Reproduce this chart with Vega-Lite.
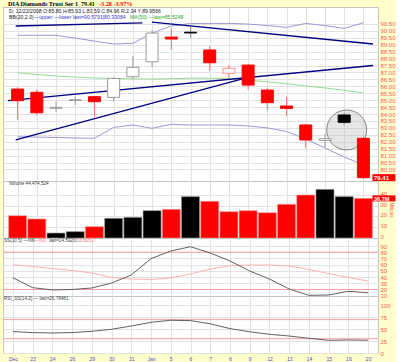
{
"$schema": "https://vega.github.io/schema/vega-lite/v6.json",
"background": "#FFFFCC",
"padding": {"left": 2, "top": 0, "right": 0, "bottom": 0},
"spacing": 0,
"bounds": "flush",
"config": {
  "view": {"fill": "#ffffff", "stroke": "#c4c4c4"},
  "axis": {"labelFont": "Liberation Sans", "ticks": false, "domain": false, "labelFlush": false, "labelOverlap": false, "gridColor": "#e2e2e2", "gridWidth": 1, "minExtent": 0, "title": null},
  "axisY": {"labelColor": "#ff5a5a", "labelFontSize": 6, "labelPadding": 2},
  "axisX": {"labelColor": "#4a4ad0", "labelFontSize": 5, "labelPadding": 3},
  "text": {"font": "Liberation Sans"}
},
"datasets": {
  "days": [
    {"i":0,"d":"2008-12-22","o":85.80,"h":85.93,"l":83.59,"c":84.96,"dir":"down","v":20.6,"up":89.68,"lo":82.36,"ma":86.98,"k":39.0,"dd":59.9,"rsi":44.9},
    {"i":1,"d":"2008-12-23","o":85.57,"h":85.75,"l":83.90,"c":84.09,"dir":"down","v":17.6,"up":89.68,"lo":82.34,"ma":86.85,"k":22.9,"dd":57.0,"rsi":42.8},
    {"i":2,"d":"2008-12-24","o":84.42,"h":84.89,"l":84.17,"c":84.48,"dir":"up","v":4.6,"up":89.68,"lo":82.31,"ma":86.74,"k":19.2,"dd":53.8,"rsi":41.9},
    {"i":3,"d":"2008-12-26","o":84.98,"h":85.25,"l":84.66,"c":85.03,"dir":"up","v":5.9,"up":89.48,"lo":82.27,"ma":86.66,"k":20.0,"dd":50.6,"rsi":42.8},
    {"i":4,"d":"2008-12-29","o":85.25,"h":85.30,"l":83.80,"c":84.89,"dir":"down","v":10.5,"up":89.26,"lo":82.25,"ma":86.60,"k":22.4,"dd":46.5,"rsi":45.5},
    {"i":5,"d":"2008-12-30","o":85.20,"h":86.65,"l":84.90,"c":86.57,"dir":"up","v":18.2,"up":89.05,"lo":83.04,"ma":86.56,"k":30.4,"dd":39.3,"rsi":49.7},
    {"i":6,"d":"2008-12-31","o":86.69,"h":88.18,"l":86.52,"c":87.37,"dir":"up","v":19.1,"up":89.10,"lo":83.21,"ma":86.53,"k":43.3,"dd":36.9,"rsi":56.6},
    {"i":7,"d":"2009-01-02","o":87.77,"h":90.06,"l":87.41,"c":89.84,"dir":"up","v":25.3,"up":89.84,"lo":82.97,"ma":86.53,"k":69.6,"dd":36.1,"rsi":64.4},
    {"i":8,"d":"2009-01-05","o":89.55,"h":90.20,"l":88.62,"c":89.41,"dir":"down","v":26.5,"up":90.35,"lo":83.26,"ma":86.55,"k":82.0,"dd":38.5,"rsi":68.6},
    {"i":9,"d":"2009-01-06","o":89.90,"h":90.30,"l":89.50,"c":89.85,"dir":"up","v":38.3,"up":90.53,"lo":83.21,"ma":86.58,"k":88.9,"dd":44.9,"rsi":67.9},
    {"i":10,"d":"2009-01-07","o":88.62,"h":88.90,"l":87.12,"c":87.70,"dir":"down","v":34.0,"up":90.54,"lo":83.21,"ma":86.58,"k":78.7,"dd":53.0,"rsi":61.2},
    {"i":11,"d":"2009-01-08","o":86.94,"h":87.53,"l":86.60,"c":87.30,"dir":"down","v":24.4,"up":90.54,"lo":83.21,"ma":86.54,"k":65.9,"dd":58.3,"rsi":51.2},
    {"i":12,"d":"2009-01-09","o":87.53,"h":87.60,"l":85.78,"c":86.09,"dir":"down","v":25.3,"up":90.49,"lo":83.14,"ma":86.45,"k":49.8,"dd":59.4,"rsi":44.4},
    {"i":13,"d":"2009-01-12","o":85.73,"h":85.90,"l":84.30,"c":84.82,"dir":"down","v":23.4,"up":90.38,"lo":83.00,"ma":86.32,"k":36.9,"dd":59.4,"rsi":39.2},
    {"i":14,"d":"2009-01-13","o":84.58,"h":85.25,"l":83.86,"c":84.41,"dir":"down","v":31.2,"up":90.25,"lo":82.74,"ma":86.18,"k":20.8,"dd":57.8,"rsi":35.6},
    {"i":15,"d":"2009-01-14","o":83.21,"h":83.30,"l":81.53,"c":82.13,"dir":"down","v":39.8,"up":90.54,"lo":82.20,"ma":86.03,"k":10.6,"dd":52.2,"rsi":30.8},
    {"i":16,"d":"2009-01-15","o":82.10,"h":82.60,"l":81.60,"c":82.22,"dir":"up","v":45.0,"up":90.38,"lo":81.55,"ma":85.88,"k":11.1,"dd":45.7,"rsi":26.6},
    {"i":17,"d":"2009-01-16","o":83.93,"h":84.10,"l":83.20,"c":83.40,"dir":"up","v":38.3,"up":90.18,"lo":80.90,"ma":85.71,"k":17.1,"dd":39.3,"rsi":27.3},
    {"i":18,"d":"2009-01-20","o":82.25,"h":82.35,"l":79.30,"c":79.41,"dir":"down","v":36.7,"up":90.58,"lo":80.33,"ma":85.52,"k":14.6,"dd":33.6,"rsi":26.8}
  ],
  "trend": [
    {"id":"a","x":-0.5,"y":84.97},{"id":"a","x":18.5,"y":87.50},
    {"id":"b","x":7.0,"y":90.63},{"id":"b","x":18.5,"y":89.05},
    {"id":"c","x":-0.1,"y":82.13},{"id":"c","x":11.9,"y":86.6},
    {"id":"d","x":-0.1,"y":90.35},{"id":"d","x":6.5,"y":90.58}
  ]
},
"vconcat": [
{
  "width": 375, "height": 174,
  "data": {"name": "days"},
  "layer": [
    {"mark": {"type": "line", "color": "#9a9ad6", "strokeWidth": 1},
     "encoding": {
       "x": {"field": "i", "type": "quantitative", "scale": {"domain": [-0.5, 18.5], "nice": false, "zero": false}, "axis": {"values": [0,1,2,3,4,5,6,7,8,9,10,11,12,13,14,15,16,17,18], "grid": true, "labels": false}},
       "y": {"field": "up", "type": "quantitative", "scale": {"domain": [79.17, 91.72], "nice": false, "zero": false}, "axis": {"orient": "right", "format": ".2f", "grid": true, "values": [80,80.5,81,81.5,82,82.5,83,83.5,84,84.5,85,85.5,86,86.5,87,87.5,88,88.5,89,89.5,90,90.5]}}}},
    {"mark": {"type": "line", "color": "#9a9ad6", "strokeWidth": 1},
     "encoding": {
       "x": {"field": "i", "type": "quantitative", "scale": {"domain": [-0.5, 18.5], "nice": false, "zero": false}, "axis": {"values": [0,1,2,3,4,5,6,7,8,9,10,11,12,13,14,15,16,17,18], "grid": true, "labels": false}},
       "y": {"field": "lo", "type": "quantitative", "scale": {"domain": [79.17, 91.72], "nice": false, "zero": false}, "axis": {"orient": "right", "format": ".2f", "grid": true, "values": [80,80.5,81,81.5,82,82.5,83,83.5,84,84.5,85,85.5,86,86.5,87,87.5,88,88.5,89,89.5,90,90.5]}}}},
    {"mark": {"type": "line", "color": "#90dc90", "strokeWidth": 1},
     "encoding": {
       "x": {"field": "i", "type": "quantitative", "scale": {"domain": [-0.5, 18.5], "nice": false, "zero": false}, "axis": {"values": [0,1,2,3,4,5,6,7,8,9,10,11,12,13,14,15,16,17,18], "grid": true, "labels": false}},
       "y": {"field": "ma", "type": "quantitative", "scale": {"domain": [79.17, 91.72], "nice": false, "zero": false}, "axis": {"orient": "right", "format": ".2f", "grid": true, "values": [80,80.5,81,81.5,82,82.5,83,83.5,84,84.5,85,85.5,86,86.5,87,87.5,88,88.5,89,89.5,90,90.5]}}}},
    {"data": {"name": "trend"},
     "mark": {"type": "line", "color": "#000080", "strokeWidth": 1.3},
     "encoding": {
       "x": {"field": "x", "type": "quantitative", "scale": {"domain": [-0.5, 18.5], "nice": false, "zero": false}, "axis": {"values": [0,1,2,3,4,5,6,7,8,9,10,11,12,13,14,15,16,17,18], "grid": true, "labels": false}},
       "y": {"field": "y", "type": "quantitative", "scale": {"domain": [79.17, 91.72], "nice": false, "zero": false}, "axis": {"orient": "right", "format": ".2f", "grid": true, "values": [80,80.5,81,81.5,82,82.5,83,83.5,84,84.5,85,85.5,86,86.5,87,87.5,88,88.5,89,89.5,90,90.5]}},
       "detail": {"field": "id"}}},
    {"data": {"values": [{}]},
     "mark": {"type": "point", "shape": "circle", "size": 1600, "filled": true, "fill": "#c8c8c8", "fillOpacity": 0.45, "opacity": 1, "stroke": "#6a6a6a", "strokeWidth": 0.8},
     "encoding": {
       "x": {"datum": 17.13, "type": "quantitative", "scale": {"domain": [-0.5, 18.5], "nice": false, "zero": false}, "axis": {"values": [0,1,2,3,4,5,6,7,8,9,10,11,12,13,14,15,16,17,18], "grid": true, "labels": false}},
       "y": {"datum": 82.85, "type": "quantitative", "scale": {"domain": [79.17, 91.72], "nice": false, "zero": false}, "axis": {"orient": "right", "format": ".2f", "grid": true, "values": [80,80.5,81,81.5,82,82.5,83,83.5,84,84.5,85,85.5,86,86.5,87,87.5,88,88.5,89,89.5,90,90.5]}}}},
    {"mark": {"type": "rule", "strokeWidth": 1},
     "encoding": {
       "x": {"field": "i", "type": "quantitative", "scale": {"domain": [-0.5, 18.5], "nice": false, "zero": false}, "axis": {"values": [0,1,2,3,4,5,6,7,8,9,10,11,12,13,14,15,16,17,18], "grid": true, "labels": false}},
       "y": {"field": "l", "type": "quantitative", "scale": {"domain": [79.17, 91.72], "nice": false, "zero": false}, "axis": {"orient": "right", "format": ".2f", "grid": true, "values": [80,80.5,81,81.5,82,82.5,83,83.5,84,84.5,85,85.5,86,86.5,87,87.5,88,88.5,89,89.5,90,90.5]}},
       "y2": {"field": "h"},
       "color": {"condition": {"test": "datum.dir === 'down'", "value": "#ff6a6a"}, "value": "#9a9a9a"}}},
    {"mark": {"type": "bar", "width": 12, "strokeWidth": 1, "orient": "vertical"},
     "encoding": {
       "x": {"field": "i", "type": "quantitative", "scale": {"domain": [-0.5, 18.5], "nice": false, "zero": false}, "axis": {"values": [0,1,2,3,4,5,6,7,8,9,10,11,12,13,14,15,16,17,18], "grid": true, "labels": false}},
       "y": {"field": "o", "type": "quantitative", "scale": {"domain": [79.17, 91.72], "nice": false, "zero": false}, "axis": {"orient": "right", "format": ".2f", "grid": true, "values": [80,80.5,81,81.5,82,82.5,83,83.5,84,84.5,85,85.5,86,86.5,87,87.5,88,88.5,89,89.5,90,90.5]}},
       "y2": {"field": "c"},
       "fill": {"condition": [{"test": "datum.c < datum.o && datum.dir === 'down'", "value": "#ff0000"}, {"test": "datum.c < datum.o", "value": "#000000"}], "value": "#ffffff"},
       "stroke": {"condition": [{"test": "datum.c < datum.o && datum.dir === 'up'", "value": "#000000"}, {"test": "datum.dir === 'down' && datum.c >= datum.o", "value": "#ff8a8a"}, {"test": "datum.dir === 'down'", "value": "#ff0000"}], "value": "#9a9a9a"}}},
    {"transform": [{"filter": "datum.i === 18"}],
     "mark": {"type": "tick", "orient": "horizontal", "size": 23, "thickness": 7, "color": "#ff0000", "opacity": 1},
     "encoding": {
       "x": {"datum": 19.07, "type": "quantitative", "scale": {"domain": [-0.5, 18.5], "nice": false, "zero": false}, "axis": {"values": [0,1,2,3,4,5,6,7,8,9,10,11,12,13,14,15,16,17,18], "grid": true, "labels": false}},
       "y": {"field": "c", "type": "quantitative", "scale": {"domain": [79.17, 91.72], "nice": false, "zero": false}, "axis": {"orient": "right", "format": ".2f", "grid": true, "values": [80,80.5,81,81.5,82,82.5,83,83.5,84,84.5,85,85.5,86,86.5,87,87.5,88,88.5,89,89.5,90,90.5]}}}},
    {"transform": [{"filter": "datum.i === 18"}],
     "mark": {"type": "text", "align": "left", "baseline": "middle", "fontSize": 6, "fontWeight": "bold", "color": "#ffffff", "dx": 1},
     "encoding": {
       "x": {"datum": 18.5, "type": "quantitative", "scale": {"domain": [-0.5, 18.5], "nice": false, "zero": false}, "axis": {"values": [0,1,2,3,4,5,6,7,8,9,10,11,12,13,14,15,16,17,18], "grid": true, "labels": false}},
       "y": {"field": "c", "type": "quantitative", "scale": {"domain": [79.17, 91.72], "nice": false, "zero": false}, "axis": {"orient": "right", "format": ".2f", "grid": true, "values": [80,80.5,81,81.5,82,82.5,83,83.5,84,84.5,85,85.5,86,86.5,87,87.5,88,88.5,89,89.5,90,90.5]}},
       "text": {"field": "c", "format": ".2f"}}},
    {"data": {"values": [{"t": "DIA Diamonds Trust Ser 1"}]},
     "mark": {"type": "text", "font": "Liberation Serif", "fontWeight": "bold", "fontSize": 6.2, "align": "left", "baseline": "middle", "color": "#000000"},
     "encoding": {
       "x": {"datum": -0.5, "type": "quantitative", "scale": {"domain": [-0.5, 18.5], "nice": false, "zero": false}, "axis": {"values": [0,1,2,3,4,5,6,7,8,9,10,11,12,13,14,15,16,17,18], "grid": true, "labels": false}},
       "y": {"datum": 91.97, "type": "quantitative", "scale": {"domain": [79.17, 91.72], "nice": false, "zero": false}, "axis": {"orient": "right", "format": ".2f", "grid": true, "values": [80,80.5,81,81.5,82,82.5,83,83.5,84,84.5,85,85.5,86,86.5,87,87.5,88,88.5,89,89.5,90,90.5]}},
       "text": {"field": "t"}}},
    {"data": {"values": [{"t": "79.41"}]},
     "mark": {"type": "text", "font": "Liberation Serif", "fontWeight": "bold", "fontSize": 6.2, "align": "left", "baseline": "middle", "color": "#000000", "dx": 73},
     "encoding": {
       "x": {"datum": -0.5, "type": "quantitative", "scale": {"domain": [-0.5, 18.5], "nice": false, "zero": false}, "axis": {"values": [0,1,2,3,4,5,6,7,8,9,10,11,12,13,14,15,16,17,18], "grid": true, "labels": false}},
       "y": {"datum": 91.97, "type": "quantitative", "scale": {"domain": [79.17, 91.72], "nice": false, "zero": false}, "axis": {"orient": "right", "format": ".2f", "grid": true, "values": [80,80.5,81,81.5,82,82.5,83,83.5,84,84.5,85,85.5,86,86.5,87,87.5,88,88.5,89,89.5,90,90.5]}},
       "text": {"field": "t"}}},
    {"data": {"values": [{"t": "-3.28   -3.97%"}]},
     "mark": {"type": "text", "font": "Liberation Serif", "fontWeight": "bold", "fontSize": 6.2, "align": "left", "baseline": "middle", "color": "#ff0000", "dx": 91},
     "encoding": {
       "x": {"datum": -0.5, "type": "quantitative", "scale": {"domain": [-0.5, 18.5], "nice": false, "zero": false}, "axis": {"values": [0,1,2,3,4,5,6,7,8,9,10,11,12,13,14,15,16,17,18], "grid": true, "labels": false}},
       "y": {"datum": 91.97, "type": "quantitative", "scale": {"domain": [79.17, 91.72], "nice": false, "zero": false}, "axis": {"orient": "right", "format": ".2f", "grid": true, "values": [80,80.5,81,81.5,82,82.5,83,83.5,84,84.5,85,85.5,86,86.5,87,87.5,88,88.5,89,89.5,90,90.5]}},
       "text": {"field": "t"}}},
    {"data": {"values": [{"t": "D: 12/22/2008 O:85.80 H:85.93 L:83.59 C:84.96 R:2.34 Y:89.9566"}]},
     "mark": {"type": "text", "fontSize": 5.2, "align": "left", "baseline": "middle", "color": "#222222", "dx": 1},
     "encoding": {
       "x": {"datum": -0.5, "type": "quantitative", "scale": {"domain": [-0.5, 18.5], "nice": false, "zero": false}, "axis": {"values": [0,1,2,3,4,5,6,7,8,9,10,11,12,13,14,15,16,17,18], "grid": true, "labels": false}},
       "y": {"datum": 91.43, "type": "quantitative", "scale": {"domain": [79.17, 91.72], "nice": false, "zero": false}, "axis": {"orient": "right", "format": ".2f", "grid": true, "values": [80,80.5,81,81.5,82,82.5,83,83.5,84,84.5,85,85.5,86,86.5,87,87.5,88,88.5,89,89.5,90,90.5]}},
       "text": {"field": "t"}}},
    {"data": {"values": [{"t": "BB(20,2.0)"}]},
     "mark": {"type": "text", "fontSize": 5.2, "align": "left", "baseline": "middle", "color": "#222222", "dx": 1},
     "encoding": {
       "x": {"datum": -0.5, "type": "quantitative", "scale": {"domain": [-0.5, 18.5], "nice": false, "zero": false}, "axis": {"values": [0,1,2,3,4,5,6,7,8,9,10,11,12,13,14,15,16,17,18], "grid": true, "labels": false}},
       "y": {"datum": 91.03, "type": "quantitative", "scale": {"domain": [79.17, 91.72], "nice": false, "zero": false}, "axis": {"orient": "right", "format": ".2f", "grid": true, "values": [80,80.5,81,81.5,82,82.5,83,83.5,84,84.5,85,85.5,86,86.5,87,87.5,88,88.5,89,89.5,90,90.5]}},
       "text": {"field": "t"}}},
    {"data": {"values": [{"t": "—upper —lower last=90.5791|80.33084"}]},
     "mark": {"type": "text", "fontSize": 5.2, "align": "left", "baseline": "middle", "color": "#3a3ac8", "dx": 26},
     "encoding": {
       "x": {"datum": -0.5, "type": "quantitative", "scale": {"domain": [-0.5, 18.5], "nice": false, "zero": false}, "axis": {"values": [0,1,2,3,4,5,6,7,8,9,10,11,12,13,14,15,16,17,18], "grid": true, "labels": false}},
       "y": {"datum": 91.03, "type": "quantitative", "scale": {"domain": [79.17, 91.72], "nice": false, "zero": false}, "axis": {"orient": "right", "format": ".2f", "grid": true, "values": [80,80.5,81,81.5,82,82.5,83,83.5,84,84.5,85,85.5,86,86.5,87,87.5,88,88.5,89,89.5,90,90.5]}},
       "text": {"field": "t"}}},
    {"data": {"values": [{"t": "MA(50) —last=85.5248"}]},
     "mark": {"type": "text", "fontSize": 5.2, "align": "left", "baseline": "middle", "color": "#2aa82a", "dx": 122},
     "encoding": {
       "x": {"datum": -0.5, "type": "quantitative", "scale": {"domain": [-0.5, 18.5], "nice": false, "zero": false}, "axis": {"values": [0,1,2,3,4,5,6,7,8,9,10,11,12,13,14,15,16,17,18], "grid": true, "labels": false}},
       "y": {"datum": 91.03, "type": "quantitative", "scale": {"domain": [79.17, 91.72], "nice": false, "zero": false}, "axis": {"orient": "right", "format": ".2f", "grid": true, "values": [80,80.5,81,81.5,82,82.5,83,83.5,84,84.5,85,85.5,86,86.5,87,87.5,88,88.5,89,89.5,90,90.5]}},
       "text": {"field": "t"}}}
  ]
},
{
  "width": 375, "height": 57,
  "data": {"name": "days"},
  "layer": [
    {"mark": {"type": "bar", "width": 18, "orient": "vertical", "strokeWidth": 0.6},
     "encoding": {
       "x": {"field": "i", "type": "quantitative", "scale": {"domain": [-0.5, 18.5], "nice": false, "zero": false}, "axis": {"values": [0,1,2,3,4,5,6,7,8,9,10,11,12,13,14,15,16,17,18], "grid": true, "labels": false}},
       "y": {"field": "v", "type": "quantitative", "scale": {"domain": [0, 52.8], "nice": false, "zero": false}, "axis": {"orient": "right", "grid": true, "labelOffset": -1.5, "values": [0,10,20,30,40], "title": "Millions", "titleColor": "#ff5a5a", "titleFontSize": 4.5, "titleFontWeight": "normal", "titleFont": "Liberation Sans", "titlePadding": 2}},
       "color": {"condition": {"test": "datum.dir === 'down'", "value": "#ff0000"}, "value": "#000000"},
       "stroke": {"condition": {"test": "datum.dir === 'down'", "value": "#ff9090"}, "value": "#909090"}}},
    {"transform": [{"filter": "datum.i === 18"}],
     "mark": {"type": "tick", "orient": "horizontal", "size": 23, "thickness": 6, "color": "#ff0000", "opacity": 1},
     "encoding": {
       "x": {"datum": 19.07, "type": "quantitative", "scale": {"domain": [-0.5, 18.5], "nice": false, "zero": false}, "axis": {"values": [0,1,2,3,4,5,6,7,8,9,10,11,12,13,14,15,16,17,18], "grid": true, "labels": false}},
       "y": {"field": "v", "type": "quantitative", "scale": {"domain": [0, 52.8], "nice": false, "zero": false}, "axis": {"orient": "right", "grid": true, "labelOffset": -1.5, "values": [0,10,20,30,40], "title": "Millions", "titleColor": "#ff5a5a", "titleFontSize": 4.5, "titleFontWeight": "normal", "titleFont": "Liberation Sans", "titlePadding": 2}}}},
    {"transform": [{"filter": "datum.i === 18"}],
     "mark": {"type": "text", "text": "36.7M", "align": "left", "baseline": "middle", "fontSize": 5.5, "fontWeight": "bold", "color": "#ffffff", "dx": 1, "dy": 0.5},
     "encoding": {
       "x": {"datum": 18.5, "type": "quantitative", "scale": {"domain": [-0.5, 18.5], "nice": false, "zero": false}, "axis": {"values": [0,1,2,3,4,5,6,7,8,9,10,11,12,13,14,15,16,17,18], "grid": true, "labels": false}},
       "y": {"field": "v", "type": "quantitative", "scale": {"domain": [0, 52.8], "nice": false, "zero": false}, "axis": {"orient": "right", "grid": true, "labelOffset": -1.5, "values": [0,10,20,30,40], "title": "Millions", "titleColor": "#ff5a5a", "titleFontSize": 4.5, "titleFontWeight": "normal", "titleFont": "Liberation Sans", "titlePadding": 2}}}},
    {"data": {"values": [{"t": "Volume 44,474,524"}]},
     "mark": {"type": "text", "fontSize": 4.6, "align": "left", "baseline": "middle", "color": "#333333", "dx": 1},
     "encoding": {
       "x": {"datum": -0.5, "type": "quantitative", "scale": {"domain": [-0.5, 18.5], "nice": false, "zero": false}, "axis": {"values": [0,1,2,3,4,5,6,7,8,9,10,11,12,13,14,15,16,17,18], "grid": true, "labels": false}},
       "y": {"datum": 49.8, "type": "quantitative", "scale": {"domain": [0, 52.8], "nice": false, "zero": false}, "axis": {"orient": "right", "grid": true, "labelOffset": -1.5, "values": [0,10,20,30,40], "title": "Millions", "titleColor": "#ff5a5a", "titleFontSize": 4.5, "titleFontWeight": "normal", "titleFont": "Liberation Sans", "titlePadding": 2}},
       "text": {"field": "t"}}}
  ]
},
{
  "width": 375, "height": 58,
  "data": {"name": "days"},
  "layer": [
    {"data": {"values": [{"lv": 20}, {"lv": 80}]},
     "mark": {"type": "rule", "color": "#ff9c9c", "strokeWidth": 1},
     "encoding": {
       "y": {"field": "lv", "type": "quantitative", "scale": {"domain": [9.5, 102.9], "nice": false, "zero": false}, "axis": {"orient": "right", "grid": true, "values": [10,20,30,40,50,60,70,80,90]}}}},
    {"mark": {"type": "line", "color": "#ffb0b0", "strokeWidth": 1},
     "encoding": {
       "x": {"field": "i", "type": "quantitative", "scale": {"domain": [-0.5, 18.5], "nice": false, "zero": false}, "axis": {"values": [0,1,2,3,4,5,6,7,8,9,10,11,12,13,14,15,16,17,18], "grid": true, "labels": false}},
       "y": {"field": "dd", "type": "quantitative", "scale": {"domain": [9.5, 102.9], "nice": false, "zero": false}, "axis": {"orient": "right", "grid": true, "values": [10,20,30,40,50,60,70,80,90]}}}},
    {"mark": {"type": "line", "color": "#606060", "strokeWidth": 1},
     "encoding": {
       "x": {"field": "i", "type": "quantitative", "scale": {"domain": [-0.5, 18.5], "nice": false, "zero": false}, "axis": {"values": [0,1,2,3,4,5,6,7,8,9,10,11,12,13,14,15,16,17,18], "grid": true, "labels": false}},
       "y": {"field": "k", "type": "quantitative", "scale": {"domain": [9.5, 102.9], "nice": false, "zero": false}, "axis": {"orient": "right", "grid": true, "values": [10,20,30,40,50,60,70,80,90]}}}},
    {"data": {"values": [{"t": "SS(10,5) —%K"}]},
     "mark": {"type": "text", "fontSize": 4.6, "align": "left", "baseline": "middle", "color": "#444444", "dx": 1},
     "encoding": {
       "x": {"datum": -0.5, "type": "quantitative", "scale": {"domain": [-0.5, 18.5], "nice": false, "zero": false}, "axis": {"values": [0,1,2,3,4,5,6,7,8,9,10,11,12,13,14,15,16,17,18], "grid": true, "labels": false}},
       "y": {"datum": 98, "type": "quantitative", "scale": {"domain": [9.5, 102.9], "nice": false, "zero": false}, "axis": {"orient": "right", "grid": true, "values": [10,20,30,40,50,60,70,80,90]}},
       "text": {"field": "t"}}},
    {"data": {"values": [{"t": "—%D"}]},
     "mark": {"type": "text", "fontSize": 4.6, "align": "left", "baseline": "middle", "color": "#ff7070", "dx": 31},
     "encoding": {
       "x": {"datum": -0.5, "type": "quantitative", "scale": {"domain": [-0.5, 18.5], "nice": false, "zero": false}, "axis": {"values": [0,1,2,3,4,5,6,7,8,9,10,11,12,13,14,15,16,17,18], "grid": true, "labels": false}},
       "y": {"datum": 98, "type": "quantitative", "scale": {"domain": [9.5, 102.9], "nice": false, "zero": false}, "axis": {"orient": "right", "grid": true, "values": [10,20,30,40,50,60,70,80,90]}},
       "text": {"field": "t"}}},
    {"data": {"values": [{"t": "last=14.5920|"}]},
     "mark": {"type": "text", "fontSize": 4.6, "align": "left", "baseline": "middle", "color": "#444444", "dx": 46},
     "encoding": {
       "x": {"datum": -0.5, "type": "quantitative", "scale": {"domain": [-0.5, 18.5], "nice": false, "zero": false}, "axis": {"values": [0,1,2,3,4,5,6,7,8,9,10,11,12,13,14,15,16,17,18], "grid": true, "labels": false}},
       "y": {"datum": 98, "type": "quantitative", "scale": {"domain": [9.5, 102.9], "nice": false, "zero": false}, "axis": {"orient": "right", "grid": true, "values": [10,20,30,40,50,60,70,80,90]}},
       "text": {"field": "t"}}},
    {"data": {"values": [{"t": "33.60517"}]},
     "mark": {"type": "text", "fontSize": 4.6, "align": "left", "baseline": "middle", "color": "#ff7070", "dx": 74},
     "encoding": {
       "x": {"datum": -0.5, "type": "quantitative", "scale": {"domain": [-0.5, 18.5], "nice": false, "zero": false}, "axis": {"values": [0,1,2,3,4,5,6,7,8,9,10,11,12,13,14,15,16,17,18], "grid": true, "labels": false}},
       "y": {"datum": 98, "type": "quantitative", "scale": {"domain": [9.5, 102.9], "nice": false, "zero": false}, "axis": {"orient": "right", "grid": true, "values": [10,20,30,40,50,60,70,80,90]}},
       "text": {"field": "t"}}}
  ]
},
{
  "width": 375, "height": 57,
  "data": {"name": "days"},
  "layer": [
    {"data": {"values": [{"lv": 30}, {"lv": 70}]},
     "mark": {"type": "rule", "color": "#ff9c9c", "strokeWidth": 1},
     "encoding": {
       "y": {"field": "lv", "type": "quantitative", "scale": {"domain": [0, 119.5], "nice": false, "zero": false}, "axis": {"orient": "right", "grid": true, "values": [0,25,50,75,100]}}}},
    {"mark": {"type": "line", "color": "#606060", "strokeWidth": 1},
     "encoding": {
       "x": {"field": "i", "type": "quantitative", "scale": {"domain": [-0.5, 18.5], "nice": false, "zero": false}, "axis": {"values": [0,1,2,3,4,5,6,7,8,9,10,11,12,13,14,15,16,17,18], "grid": true, "labels": true, "labelExpr": "['Dec','23','24','26','29','30','31','Jan','5','6','7','8','9','12','13','14','15','16','20'][datum.value]"}},
       "y": {"field": "rsi", "type": "quantitative", "scale": {"domain": [0, 119.5], "nice": false, "zero": false}, "axis": {"orient": "right", "grid": true, "values": [0,25,50,75,100]}}}},
    {"data": {"values": [{"t": "RSI_SS(14,2) — last=26.78481"}]},
     "mark": {"type": "text", "fontSize": 4.6, "align": "left", "baseline": "middle", "color": "#444444", "dx": 1},
     "encoding": {
       "x": {"datum": -0.5, "type": "quantitative", "scale": {"domain": [-0.5, 18.5], "nice": false, "zero": false}, "axis": {"values": [0,1,2,3,4,5,6,7,8,9,10,11,12,13,14,15,16,17,18], "grid": true, "labels": true, "labelExpr": "['Dec','23','24','26','29','30','31','Jan','5','6','7','8','9','12','13','14','15','16','20'][datum.value]"}},
       "y": {"datum": 112.5, "type": "quantitative", "scale": {"domain": [0, 119.5], "nice": false, "zero": false}, "axis": {"orient": "right", "grid": true, "values": [0,25,50,75,100]}},
       "text": {"field": "t"}}}
  ]
}
]
}
